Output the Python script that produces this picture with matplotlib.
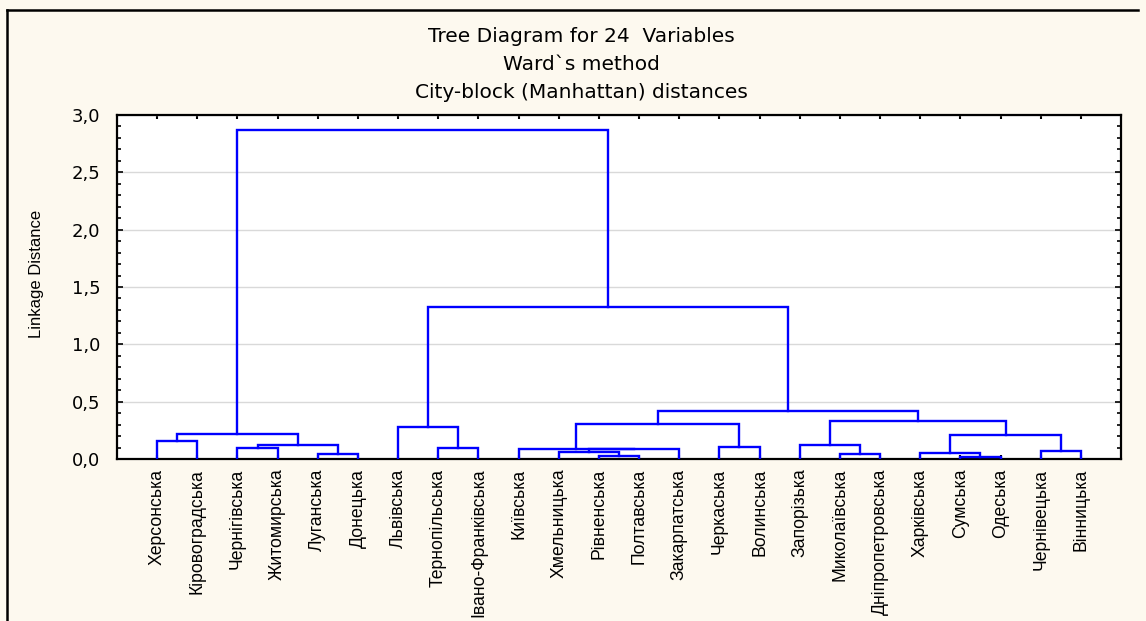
import numpy as np
import matplotlib
matplotlib.use('Agg')
import matplotlib.pyplot as plt
from matplotlib.lines import Line2D
from matplotlib.ticker import MultipleLocator, FuncFormatter

# leaf labels in the order they appear on the x axis
labels = ['Херсонська', 'Кіровоградська', 'Чернігівська', 'Житомирська',
          'Луганська', 'Донецька', 'Львівська', 'Тернопільська',
          'Івано-Франківська', 'Київська', 'Хмельницька', 'Рівненська',
          'Полтавська', 'Закарпатська', 'Черкаська', 'Волинська',
          'Запорізька', 'Миколаївська', 'Дніпропетровська', 'Харківська',
          'Сумська', 'Одеська', 'Чернівецька', 'Вінницька']

# merges: node 24 is the first merge, 25 the second, ...
merge_left = [11, 20, 4, 17, 19, 10, 22, 29, 9, 7, 2, 14,
              34, 16, 0, 28, 38, 6, 32, 37, 42, 41, 40]
merge_right = [12, 21, 5, 18, 25, 24, 23, 13, 31, 8, 3, 15,
               26, 27, 1, 30, 36, 33, 35, 39, 43, 44, 45]
merge_height = [0.023, 0.020, 0.043, 0.046, 0.055, 0.064, 0.067, 0.086,
                0.090, 0.093, 0.099, 0.107, 0.122, 0.122, 0.160, 0.209,
                0.215, 0.276, 0.303, 0.334, 0.421, 1.328, 2.869]

bg = '#fdf9ef'
blue = '#0000ff'
arial = ['Liberation Sans', 'DejaVu Sans']

fig = plt.figure(figsize=(11.46, 6.21), dpi=100, facecolor=bg)
ax = fig.add_axes([117 / 1146, 1 - 459 / 621, (1121 - 117) / 1146, (459 - 115) / 621])
ax.set_facecolor('white')

n = len(labels)
node_x = list(np.arange(1, n + 1, dtype=float))
node_h = [0.0] * n

for a, b, h in zip(merge_left, merge_right, merge_height):
    xa, xb = node_x[a], node_x[b]
    ax.plot([xa, xa, xb, xb], [node_h[a], h, h, node_h[b]],
            color=blue, lw=1.7, solid_joinstyle='miter', zorder=3)
    node_x.append((xa + xb) / 2)
    node_h.append(h)

ax.set_xlim(0, n + 1)
ax.set_ylim(0, 3.0)

ax.yaxis.set_major_locator(MultipleLocator(0.5))
ax.yaxis.set_minor_locator(MultipleLocator(0.1))
ax.yaxis.set_major_formatter(FuncFormatter(lambda v, p: f'{v:.1f}'.replace('.', ',')))
ax.grid(axis='y', which='major', color='#d9d9d9', lw=1.0, zorder=0)

ax.set_xticks(np.arange(1, n + 1))
ax.set_xticklabels(labels, rotation=90, family=arial, fontsize=12.7, va='top')

ax.tick_params(axis='y', which='both', direction='in', left=True, right=True,
               labelsize=13, pad=12, width=1.2)
ax.tick_params(axis='y', which='major', length=4)
ax.tick_params(axis='y', which='minor', length=3)
ax.tick_params(axis='x', direction='in', top=True, bottom=True, length=3,
               width=1.5, pad=7)
for s in ax.spines.values():
    s.set_linewidth(1.6)

fig.text(37 / 1146, 1 - 274 / 621, 'Linkage Distance', rotation=90,
         ha='center', va='center', fontsize=12, family=arial)

title_lines = ['Tree Diagram for 24  Variables', 'Ward`s method',
               'City-block (Manhattan) distances']
for i, t in enumerate(title_lines):
    fig.text(581 / 1146, 1 - (37 + 27.5 * i) / 621, t, ha='center', va='center',
             fontsize=14.5)

# outer frame
fig.add_artist(Line2D([7 / 1146, 7 / 1146], [0, 1 - 10 / 621], color='black', lw=1.8))
fig.add_artist(Line2D([7 / 1146, 1138 / 1146], [1 - 10 / 621, 1 - 10 / 621], color='black', lw=1.8))

fig.savefig('out.png', dpi=100, facecolor=bg)
